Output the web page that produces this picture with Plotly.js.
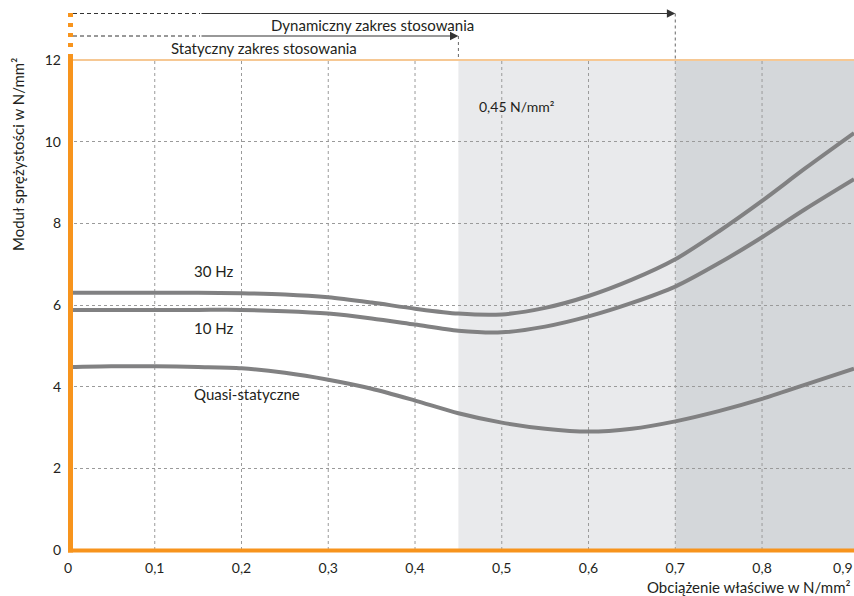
<!DOCTYPE html>
<html>
<head>
<meta charset="utf-8">
<script src="https://cdn.plot.ly/plotly-3.0.1.min.js"></script>
<style>html,body{margin:0;padding:0;background:#fff;}#chart{width:854px;height:596px;}</style>
</head>
<body>
<div id="chart"></div>
<script>
// ---- data ----
const loads = [0, 0.05, 0.1, 0.15, 0.2, 0.25, 0.3, 0.35, 0.4, 0.45, 0.5, 0.55, 0.6, 0.65, 0.7, 0.75, 0.8, 0.85, 0.906];
const hz30 = [6.30, 6.30, 6.30, 6.30, 6.29, 6.26, 6.19, 6.06, 5.91, 5.79, 5.77, 5.93, 6.22, 6.62, 7.12, 7.80, 8.55, 9.35, 10.21];
const hz10 = [5.88, 5.88, 5.88, 5.88, 5.88, 5.85, 5.79, 5.67, 5.52, 5.37, 5.33, 5.47, 5.72, 6.05, 6.45, 7.02, 7.66, 8.35, 9.08];
const quasi = [4.48, 4.50, 4.50, 4.48, 4.45, 4.34, 4.17, 3.95, 3.66, 3.35, 3.12, 2.97, 2.90, 2.97, 3.15, 3.40, 3.70, 4.05, 4.44];
const seriesNames = ["30 Hz", "10 Hz", "Quasi-statyczne"];
const xTicks = [0, 0.1, 0.2, 0.3, 0.4, 0.5, 0.6, 0.7, 0.8];
const xTickText = ["0", "0,1", "0,2", "0,3", "0,4", "0,5", "0,6", "0,7", "0,8"];
const xLastTick = [0.9];
const xLastTickText = ["0,9"];
const yTicks = [0, 2, 4, 6, 8, 10, 12];
const staticLimit = 0.45;
const dynamicLimit = 0.7;
const xMax = 0.906;
const yMax = 12;
const labels = {
  dyn: "Dynamiczny zakres stosowania",
  stat: "Statyczny zakres stosowania",
  limit: "0,45 N/mm²",
  xTitle: "Obciążenie właściwe w N/mm²",
  yTitle: "Moduł sprężystości w N/mm²"
};

// ---- layout helpers ----
const W = 854, H = 596, L = 68, R = 0, T = 60, B = 46;
const PW = W - L - R, PH = H - T - B;
const px = x => (x - L) / PW;
const py = y => (H - B - y) / PH;
const FONT = "Lato, 'Open Sans', sans-serif";
const TXT = "#231f20";
const ORANGE = "#f7941d";
const CURVE = "#818182";
const GRID = "#9a9a9a";

const traces = [hz30, hz10, quasi].map((ys, i) => ({
  x: loads, y: ys, type: "scatter", mode: "lines", name: seriesNames[i],
  line: {color: CURVE, width: 4, shape: "spline", smoothing: 0.8},
  hoverinfo: "skip"
}));

const shapes = [];
shapes.push({type: "rect", xref: "x", yref: "y", x0: staticLimit, x1: dynamicLimit, y0: 0, y1: yMax, fillcolor: "#e9eaec", line: {width: 0}, layer: "below"});
shapes.push({type: "rect", xref: "x", yref: "y", x0: dynamicLimit, x1: xMax, y0: 0, y1: yMax, fillcolor: "#d4d7da", line: {width: 0}, layer: "below"});
xTicks.filter(v => v > 0).forEach(v => {
  shapes.push({type: "line", xref: "x", yref: "y", x0: v, x1: v, y0: 0, y1: yMax, line: {color: GRID, width: 1, dash: "3px,3px"}, layer: "below"});
});
shapes.push({type: "line", xref: "paper", yref: "paper", x0: 0, x1: 1, y0: 1, y1: 1, line: {color: "#f6c894", width: 2}});
shapes.push({type: "line", xref: "paper", yref: "paper", x0: px(70.5), x1: px(70.5), y0: py(54), y1: py(552.5), line: {color: ORANGE, width: 5}});
shapes.push({type: "line", xref: "paper", yref: "paper", x0: px(68), x1: 1, y0: py(550.5), y1: py(550.5), line: {color: ORANGE, width: 4}});
shapes.push({type: "line", xref: "paper", yref: "paper", x0: px(70.5), x1: px(70.5), y0: py(13), y1: py(50), line: {color: ORANGE, width: 5, dash: "4px,6px"}});
const yDyn = 13.5, yStat = 36;
shapes.push({type: "line", xref: "paper", yref: "paper", x0: px(73), x1: px(200), y0: py(yDyn), y1: py(yDyn), line: {color: "#333", width: 1, dash: "4px,3px"}});
shapes.push({type: "line", xref: "paper", yref: "paper", x0: px(73), x1: px(200), y0: py(yStat), y1: py(yStat), line: {color: "#333", width: 1, dash: "4px,3px"}});
shapes.push({type: "line", xref: "x", yref: "paper", x0: dynamicLimit, x1: dynamicLimit, y0: py(yDyn), y1: 1, line: {color: "#666", width: 1, dash: "3px,3px"}});
shapes.push({type: "line", xref: "x", yref: "paper", x0: staticLimit, x1: staticLimit, y0: py(yStat), y1: 1, line: {color: "#666", width: 1, dash: "3px,3px"}});

const xStart = (200 - L) / PW * xMax;
function label(xp, yp, text, size, xanchor, extra) {
  return Object.assign({x: px(xp), y: py(yp), xref: "paper", yref: "paper", xanchor: xanchor, yanchor: "middle",
    text: text, showarrow: false, font: {family: FONT, size: size, color: TXT}}, extra || {});
}
const annotations = [
  {x: dynamicLimit, xref: "x", y: py(yDyn), yref: "paper", ax: xStart, axref: "x", ay: 0, ayref: "pixel", text: "", showarrow: true, arrowhead: 2, arrowsize: 1.4, arrowwidth: 1.2, arrowcolor: "#333"},
  {x: staticLimit, xref: "x", y: py(yStat), yref: "paper", ax: xStart, axref: "x", ay: 0, ayref: "pixel", text: "", showarrow: true, arrowhead: 2, arrowsize: 1.4, arrowwidth: 1.2, arrowcolor: "#333"},
  label(372, 25, labels.dyn, 15, "center"),
  label(264, 48, labels.stat, 15, "center"),
  label(477, 106, labels.limit, 14, "left"),
  label(192, 271, seriesNames[0], 15, "left"),
  label(192, 328, seriesNames[1], 15, "left"),
  label(192, 394, seriesNames[2], 15, "left"),
  label(853, 587, labels.xTitle, 15, "right"),
  label(18, 155, labels.yTitle, 15, "center", {textangle: -90})
];

const tickFont = {family: FONT, size: 14, color: TXT};
const layout = {
  width: W, height: H,
  margin: {l: L, r: R, t: T, b: B, pad: 0},
  paper_bgcolor: "#fff", plot_bgcolor: "rgba(0,0,0,0)",
  showlegend: false,
  separators: ", ",
  xaxis: {range: [0, xMax], tickvals: xTicks, ticktext: xTickText, showgrid: false, zeroline: false, showline: false,
          ticks: "", ticklabelstandoff: 8, tickfont: tickFont, fixedrange: true},
  xaxis2: {overlaying: "x", matches: "x", range: [0, xMax], side: "bottom", anchor: "y", tickvals: xLastTick, ticktext: xLastTickText,
          showgrid: false, zeroline: false, showline: false, ticks: "", ticklabelstandoff: 8, ticklabelshift: -6,
          ticklabeloverflow: "allow", tickfont: tickFont, fixedrange: true},
  yaxis: {range: [0, yMax], tickvals: yTicks, showgrid: true, gridcolor: GRID, griddash: "3px,3px", gridwidth: 1,
          zeroline: false, showline: false, ticks: "", ticklabelstandoff: 6, tickfont: tickFont, fixedrange: true},
  shapes: shapes,
  annotations: annotations
};

// invisible helper trace so the overlaying axis is drawn
traces.push({x: [0], y: [0], xaxis: "x2", yaxis: "y", type: "scatter", mode: "markers", marker: {opacity: 0}, hoverinfo: "skip", showlegend: false});

Plotly.newPlot("chart", traces, layout, {displayModeBar: false, staticPlot: true});
</script>
</body>
</html>
